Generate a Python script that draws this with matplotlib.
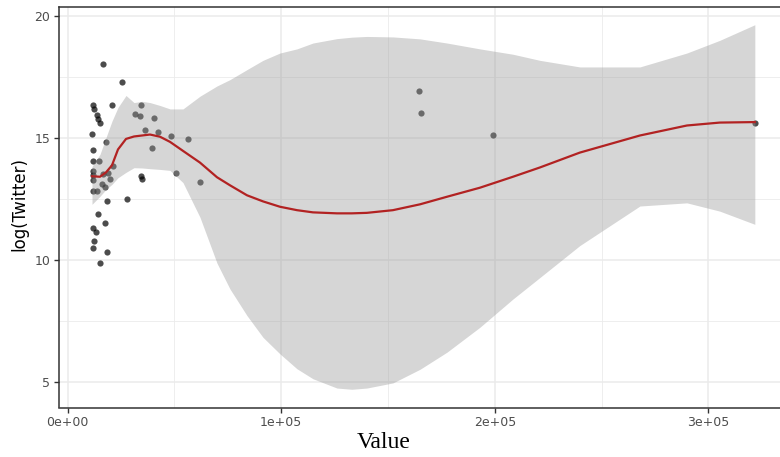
import matplotlib
matplotlib.use("Agg")
import matplotlib.pyplot as plt
import numpy as np

# ---- data ----
value = [16.7e3, 25.3e3, 12.0e3, 20.6e3, 12.5e3, 13.6e3, 14.4e3, 15.2e3, 34.6e3, 31.6e3,
         33.9e3, 40.6e3, 11.3e3, 18.2e3, 36.4e3, 42.5e3, 48.6e3, 56.5e3, 39.4e3, 12.0e3,
         11.9e3, 14.7e3, 21.4e3, 11.8e3, 11.8e3, 11.8e3, 16.7e3, 19.1e3, 19.9e3, 16.0e3,
         17.5e3, 11.8e3, 13.7e3, 18.7e3, 27.8e3, 14.4e3, 17.5e3, 11.8e3, 13.2e3, 12.6e3,
         11.9e3, 18.7e3, 15.0e3, 34.4e3, 34.7e3, 51.0e3, 62.0e3, 164.6e3, 165.4e3, 199.1e3,
         321.7e3]
log_twitter = [18.07, 17.32, 16.39, 16.37, 16.21, 15.94, 15.78, 15.64, 16.36, 16.00,
               15.91, 15.84, 15.20, 14.87, 15.36, 15.26, 15.09, 14.99, 14.61, 14.51,
               14.08, 14.08, 13.87, 13.66, 13.49, 13.30, 13.53, 13.60, 13.32, 13.12,
               13.01, 12.85, 12.85, 12.42, 12.53, 11.89, 11.52, 11.32, 11.18, 10.79,
               10.52, 10.36, 9.88, 13.46, 13.32, 13.60, 13.23, 16.96, 16.06, 15.16,
               15.65]

smooth_x = [11.46e3, 15.21e3, 18.02e3, 20.82e3, 23.63e3, 27.38e3, 31.12e3, 34.86e3, 38.61e3,
            43.29e3, 47.96e3, 54.05e3, 62.0e3, 69.96e3, 76.04e3, 84.0e3, 91.49e3, 99.44e3,
            107.4e3, 114.9e3, 126.1e3, 133.1e3, 140.1e3, 152.3e3, 165.0e3, 177.6e3, 193.0e3,
            208.5e3, 221.1e3, 239.8e3, 267.9e3, 289.9e3, 305.3e3, 321.7e3]
smooth_fit = [13.45, 13.43, 13.61, 13.90, 14.55, 14.98, 15.08, 15.12, 15.16, 15.07, 14.86,
              14.49, 14.01, 13.41, 13.08, 12.67, 12.42, 12.20, 12.06, 11.97, 11.93, 11.93,
              11.95, 12.06, 12.30, 12.61, 12.98, 13.43, 13.81, 14.42, 15.12, 15.53, 15.65,
              15.67]
smooth_lo = [12.30, 12.63, 12.91, 13.12, 13.39, 13.61, 13.80, 13.79, 13.76, 13.73, 13.69,
             13.19, 11.77, 9.89, 8.83, 7.74, 6.85, 6.17, 5.56, 5.15, 4.77, 4.72, 4.77, 4.98,
             5.54, 6.24, 7.26, 8.42, 9.30, 10.61, 12.23, 12.36, 12.02, 11.48]
smooth_hi = [13.85, 14.35, 15.04, 15.71, 16.27, 16.76, 16.47, 16.52, 16.47, 16.35, 16.21,
             16.21, 16.73, 17.15, 17.41, 17.82, 18.20, 18.50, 18.67, 18.91, 19.09, 19.15,
             19.18, 19.16, 19.08, 18.91, 18.67, 18.45, 18.20, 17.93, 17.93, 18.50, 19.02,
             19.66]

x_ticks = [0, 1e5, 2e5, 3e5]
x_tick_labels = ["0e+00", "1e+05", "2e+05", "3e+05"]
x_minor = [5e4, 1.5e5, 2.5e5]
y_ticks = [5, 10, 15, 20]
y_minor = [7.5, 12.5, 17.5]

# ---- figure ----
W, H = 780, 457
fig = plt.figure(figsize=(W / 100, H / 100), dpi=100)
left_px, right_px, top_px, bot_px = 58.5, 788.0, 6.5, 407.5
ax = fig.add_axes([left_px / W, 1 - bot_px / H, (right_px - left_px) / W, (bot_px - top_px) / H])

allx = value + smooth_x
ally = log_twitter + smooth_lo + smooth_hi
xr = max(allx) - min(allx)
yr = max(ally) - min(ally)
ax.set_xlim(min(allx) - 0.05 * xr, max(allx) + 0.05 * xr)
ax.set_ylim(min(ally) - 0.05 * yr, max(ally) + 0.05 * yr)

grid_c = "#EBEBEB"
for v in x_minor:
    ax.axvline(v, color=grid_c, lw=0.6, zorder=0)
for v in y_minor:
    ax.axhline(v, color=grid_c, lw=0.6, zorder=0)
for v in x_ticks:
    ax.axvline(v, color=grid_c, lw=1.1, zorder=0)
for v in y_ticks:
    ax.axhline(v, color=grid_c, lw=1.1, zorder=0)

ax.scatter(value, log_twitter, s=20, color="#000000", alpha=0.7, linewidths=0, zorder=2)
ax.fill_between(smooth_x, smooth_lo, smooth_hi, color="#999999", alpha=0.4, linewidth=0, zorder=3)
ax.plot(smooth_x, smooth_fit, color="#B22222", lw=1.6, zorder=4)

ax.set_xticks(x_ticks)
ax.set_xticklabels(x_tick_labels)
ax.set_yticks(y_ticks)
ax.set_yticklabels([str(v) for v in y_ticks])
ax.tick_params(axis="both", length=3.5, width=1.0, color="#333333",
               labelsize=9, labelcolor="#4D4D4D", pad=2.5)
for s in ax.spines.values():
    s.set_color("#333333")
    s.set_linewidth(1.1)

fig.text(383.5 / W, 1 - 443 / H, "Value", ha="center", va="center",
         family="Liberation Serif", fontsize=17, color="black")
fig.text(19 / W, 1 - 204 / H, "log(Twitter)", ha="center", va="center", rotation=90,
         family="DejaVu Sans", fontsize=12, color="black")

fig.savefig("out.png", dpi=100)
